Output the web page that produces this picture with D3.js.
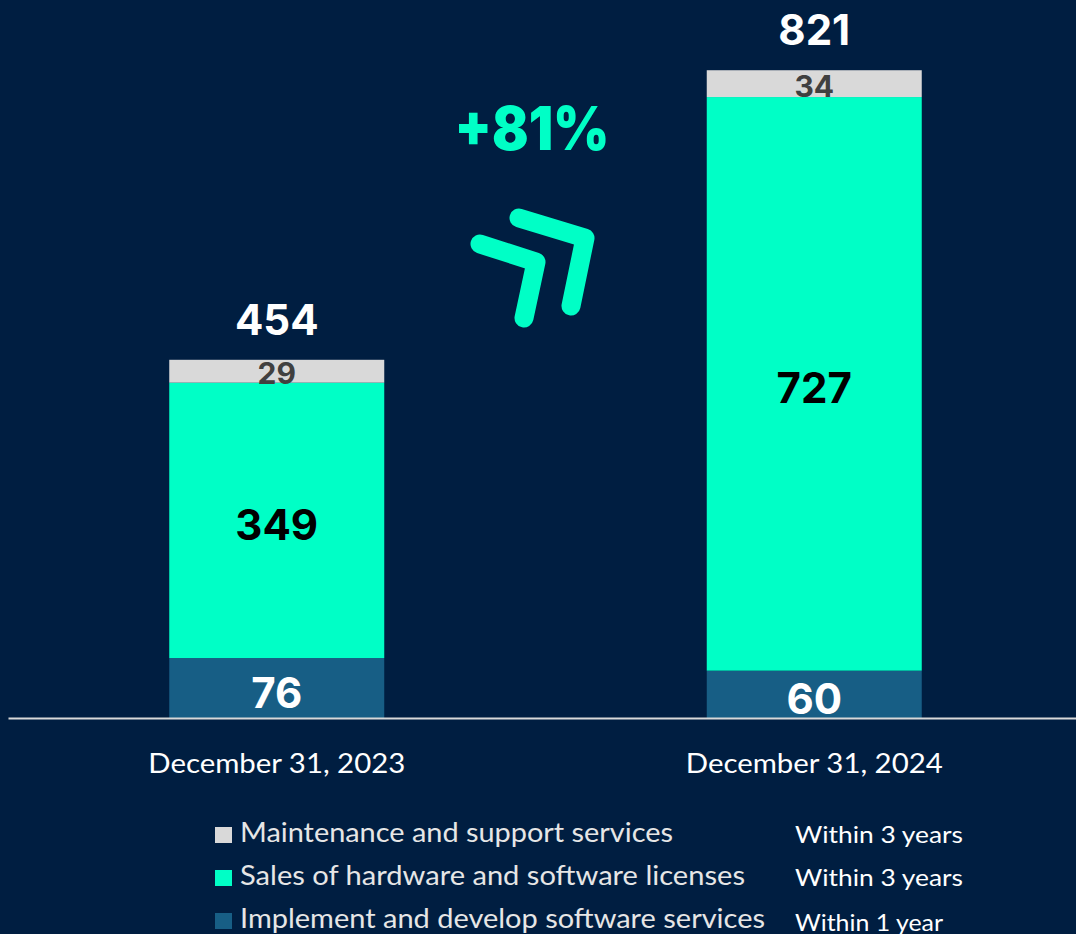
<!DOCTYPE html>
<html lang="en">
<head>
<meta charset="utf-8">
<script src="https://cdn.jsdelivr.net/npm/d3@7"></script>
<style>
  html, body { margin: 0; padding: 0; background: #001e41; }
  svg { display: block; }
</style>
</head>
<body>
<svg id="chart" width="1076" height="934"></svg>
<script>
// data
var categories = ["December 31, 2023", "December 31, 2024"];
var implementVals = [76, 60];
var salesVals = [349, 727];
var maintVals = [29, 34];
var totals = [454, 821];
var growthLabel = "+81%";

var seriesNames = ["Maintenance and support services", "Sales of hardware and software licenses", "Implement and develop software services"];
var seriesTerms = ["Within 3 years", "Within 3 years", "Within 1 year"];

var colors = { maint: "#d9d9d9", sales: "#00ffc6", impl: "#175e85" };

var svg = d3.select("#chart");
var baseY = 718;

var x = d3.scaleBand()
    .domain(categories)
    .range([8, 1083])
    .paddingInner(0.6)
    .paddingOuter(0.3);

var y = d3.scaleLinear()
    .domain([0, 910])
    .range([baseY, 0]);

// stack rows from data
var rows = categories.map(function(c, i) {
    return { cat: c, impl: implementVals[i], sales: salesVals[i], maint: maintVals[i], total: totals[i] };
});
var keys = ["impl", "sales", "maint"];
var stack = d3.stack().keys(keys)(rows);

var labelStyle = {
    impl: { fill: "#ffffff", size: 42 },
    sales: { fill: "#000000", size: 42 },
    maint: { fill: "#404040", size: 30 }
};

var layers = svg.append("g").selectAll("g")
    .data(stack)
    .join("g")
    .attr("fill", function(d) { return colors[d.key]; });

layers.selectAll("rect")
    .data(function(d) { return d; })
    .join("rect")
    .attr("x", function(d) { return x(d.data.cat); })
    .attr("width", x.bandwidth())
    .attr("y", function(d) { return y(d[1]); })
    .attr("height", function(d) { return y(d[0]) - y(d[1]); });

// segment labels
stack.forEach(function(layer) {
    var st = labelStyle[layer.key];
    svg.append("g").selectAll("text")
        .data(layer)
        .join("text")
        .attr("x", function(d) { return x(d.data.cat) + x.bandwidth() / 2; })
        .attr("y", function(d) { return (y(d[0]) + y(d[1])) / 2 + (layer.key == "maint" ? 2 : 4); })
        .attr("text-anchor", "middle")
        .attr("dominant-baseline", "central")
        .attr("font-family", "Inter, 'Open Sans', sans-serif")
        .attr("font-weight", 700)
        .attr("font-size", st.size)
        .attr("fill", st.fill)
        .text(function(d) { return d.data[layer.key]; });
});

// totals
svg.append("g").selectAll("text")
    .data(rows)
    .join("text")
    .attr("x", function(d) { return x(d.cat) + x.bandwidth() / 2; })
    .attr("y", function(d) { return y(d.total) - 25; })
    .attr("text-anchor", "middle")
    .attr("font-family", "Inter, 'Open Sans', sans-serif")
    .attr("font-weight", 700)
    .attr("font-size", 42)
    .attr("fill", "#ffffff")
    .text(function(d) { return d.total; });

// axis
var axis = svg.append("g")
    .attr("transform", "translate(0," + baseY + ")")
    .call(d3.axisBottom(x).tickSize(0).tickSizeOuter(0).tickPadding(36));
axis.select(".domain").attr("stroke", "#d9d9d9").attr("stroke-width", 2);
axis.selectAll(".tick text")
    .attr("fill", "#ffffff")
    .attr("font-family", "Lato, 'Open Sans', sans-serif")
    .attr("font-size", 27)
    .attr("textLength", 257)
    .attr("lengthAdjust", "spacingAndGlyphs");

// growth annotation
svg.append("text")
    .attr("x", 532)
    .attr("y", 150)
    .attr("text-anchor", "middle")
    .attr("font-family", "Inter, 'Open Sans', sans-serif")
    .attr("font-weight", 900)
    .attr("font-size", 60)
    .attr("fill", colors.sales)
    .attr("textLength", 155)
    .attr("lengthAdjust", "spacingAndGlyphs")
    .text(growthLabel);

// double chevron arrow
var chevrons = [
    [[480, 244], [536, 262], [524, 318]],
    [[519, 218], [585, 238], [571, 306]]
];
var line = d3.line();
svg.append("g").selectAll("path")
    .data(chevrons)
    .join("path")
    .attr("d", line)
    .attr("fill", "none")
    .attr("stroke", colors.sales)
    .attr("stroke-width", 19)
    .attr("stroke-linecap", "round")
    .attr("stroke-linejoin", "round");

// legend
var legendKeys = ["maint", "sales", "impl"];
var leg = svg.append("g").selectAll("g")
    .data(seriesNames)
    .join("g")
    .attr("transform", function(d, i) { return "translate(215," + (843 + i * 43) + ")"; });

leg.append("rect")
    .attr("x", 0)
    .attr("y", -16)
    .attr("width", 17)
    .attr("height", 16)
    .attr("fill", function(d, i) { return colors[legendKeys[i]]; });

var nameWidths = [433, 505, 525];
leg.append("text")
    .attr("x", 25)
    .attr("y", -1)
    .attr("fill", "#e6e6e6")
    .attr("font-family", "Lato, 'Open Sans', sans-serif")
    .attr("font-size", 26)
    .attr("textLength", function(d, i) { return nameWidths[i]; })
    .attr("lengthAdjust", "spacingAndGlyphs")
    .text(function(d) { return d; });

var termWidths = [168, 168, 148];
leg.append("text")
    .attr("x", 580)
    .attr("y", function(d, i) { return i == 2 ? 2 : 0; })
    .attr("fill", "#ffffff")
    .attr("font-family", "Lato, 'Open Sans', sans-serif")
    .attr("font-size", 24)
    .attr("textLength", function(d, i) { return termWidths[i]; })
    .attr("lengthAdjust", "spacingAndGlyphs")
    .text(function(d, i) { return seriesTerms[i]; });
</script>
</body>
</html>
